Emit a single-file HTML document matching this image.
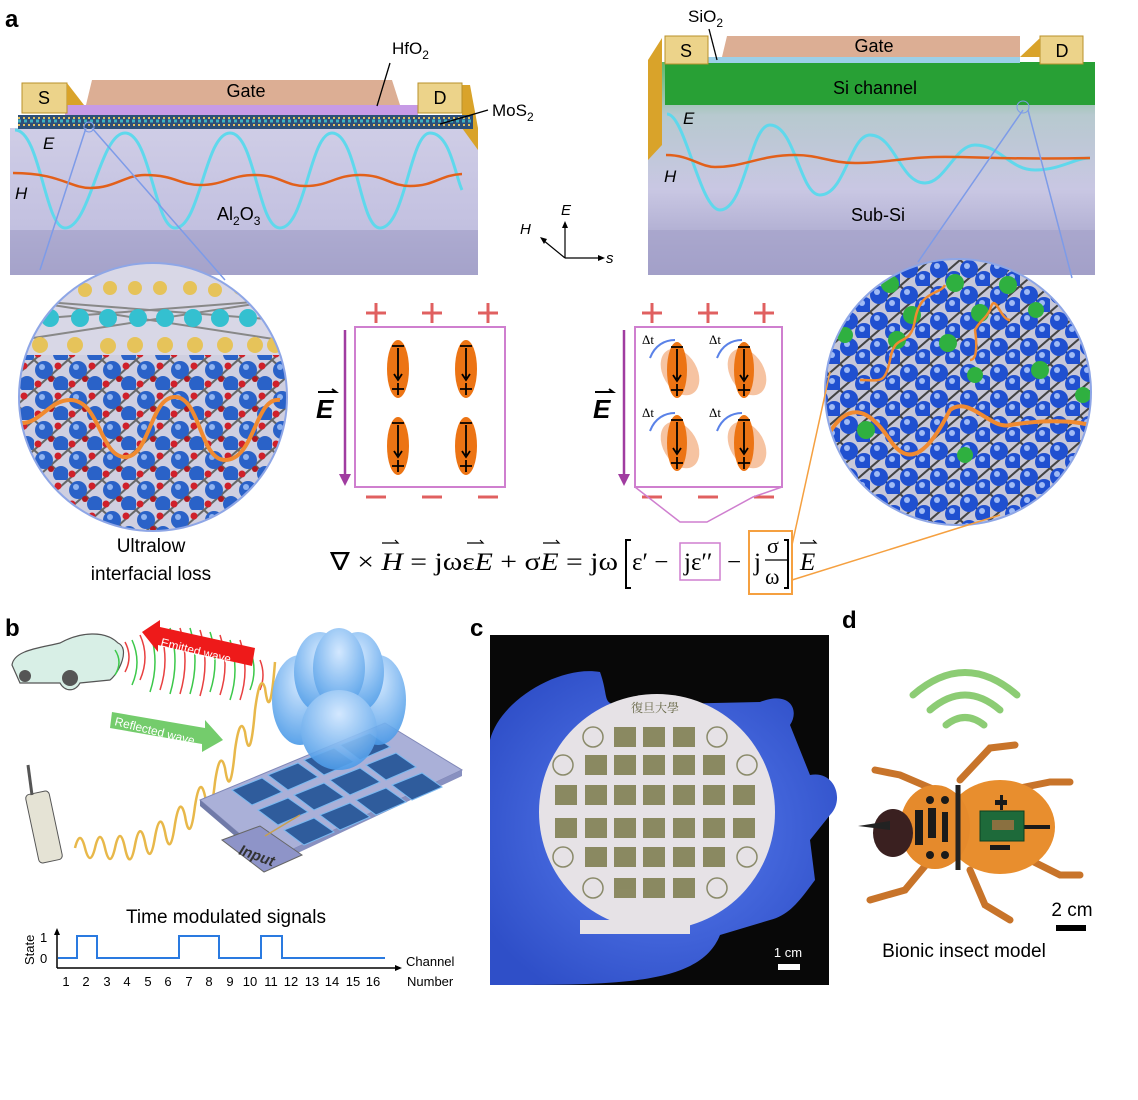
<!DOCTYPE html>
<html><head><meta charset="utf-8"><style>
html,body{margin:0;padding:0;background:#fff}
svg{display:block;font-family:"Liberation Sans",sans-serif}
</style></head><body>
<svg width="1138" height="1100" viewBox="0 0 1138 1100" xmlns="http://www.w3.org/2000/svg">
<defs>
<linearGradient id="box" x1="0" y1="0" x2="0" y2="1"><stop offset="0" stop-color="#cfcde6"/><stop offset="0.7" stop-color="#c2c0e0"/><stop offset="1" stop-color="#9a98c2"/></linearGradient>
<linearGradient id="box2" x1="0" y1="0" x2="0" y2="1"><stop offset="0" stop-color="#5fb86a"/><stop offset="0.25" stop-color="#b7c9cf"/><stop offset="0.6" stop-color="#c9c7e3"/><stop offset="1" stop-color="#9c9ac4"/></linearGradient>
<pattern id="alo" width="34" height="30" patternUnits="userSpaceOnUse">
<rect width="34" height="30" fill="#cfcfe0"/>
<path d="M0 0L34 30M34 0L0 30" stroke="#666" stroke-width="2"/>
<circle cx="10" cy="10" r="9" fill="#2a62c8"/><circle cx="8" cy="7" r="3" fill="#8fb3f0"/>
<circle cx="27" cy="24" r="8" fill="#2a62c8"/>
<circle cx="24" cy="6" r="3.5" fill="#d0202a"/><circle cx="4" cy="24" r="3.5" fill="#d0202a"/><circle cx="17" cy="19" r="3" fill="#b01820"/>
</pattern>
<pattern id="si" width="30" height="26" patternUnits="userSpaceOnUse">
<rect width="30" height="26" fill="#c8c8d8"/>
<path d="M0 0L30 26M30 0L0 26" stroke="#444" stroke-width="2"/>
<circle cx="9" cy="9" r="9" fill="#2050d0"/><circle cx="7" cy="6" r="3" fill="#9fbaf5"/>
<circle cx="24" cy="20" r="9" fill="#2050d0"/><circle cx="22" cy="17" r="3" fill="#9fbaf5"/>
</pattern>
<clipPath id="c1"><circle cx="153" cy="397" r="134"/></clipPath>
<clipPath id="c2"><circle cx="958" cy="392" r="133"/></clipPath>
<radialGradient id="glove" cx="0.5" cy="0.5" r="0.6"><stop offset="0" stop-color="#5a7ff0"/><stop offset="1" stop-color="#2f4fc8"/></radialGradient>
<radialGradient id="lobe" cx="0.5" cy="0.3" r="0.7"><stop offset="0" stop-color="#cfe6ff"/><stop offset="1" stop-color="#4a9ae8"/></radialGradient>
</defs>

<text x="5" y="27" font-size="24" font-weight="bold">a</text>
<text x="5" y="636" font-size="24" font-weight="bold">b</text>
<text x="470" y="636" font-size="24" font-weight="bold">c</text>
<text x="842" y="628" font-size="24" font-weight="bold">d</text>

<!-- LEFT DEVICE -->
<polygon points="10,128 478,128 478,275 10,275" fill="url(#box)"/>
<polygon points="10,230 478,230 478,275 10,275" fill="#a7a5cc" opacity="0.8"/>
<polygon points="462,85 470,85 478,128 478,150 462,128" fill="#d9a32a"/>
<rect x="65" y="105" width="353" height="10" fill="#c79be6"/>
<rect x="18" y="115" width="455" height="14" fill="#2d4f78"/>
<path d="M18 118 H473 M18 125 H473" stroke="#e0c060" stroke-width="2" stroke-dasharray="2 3"/>
<path d="M18 121 H473" stroke="#40b0c0" stroke-width="3" stroke-dasharray="3 3"/>
<polygon points="92,80 392,80 400,105 86,105" fill="#dcae94"/>
<text x="246" y="97" font-size="18" text-anchor="middle">Gate</text>
<rect x="22" y="83" width="45" height="30" fill="#ecd38a" stroke="#b9902a"/>
<polygon points="67,83 84,105 67,105" fill="#d9a32a"/>
<text x="44" y="104" font-size="18" text-anchor="middle">S</text>
<rect x="418" y="83" width="44" height="30" fill="#ecd38a" stroke="#b9902a"/>
<text x="440" y="104" font-size="18" text-anchor="middle">D</text>
<path d="M15 130 C40 130 45 228 65 228 C90 228 100 133 125 133 C150 133 155 228 175 228 C200 228 205 133 230 133 C255 133 258 228 280 228 C305 228 310 133 332 133 C357 133 360 228 380 228 C405 228 410 133 430 133 C450 133 455 175 462 190" fill="none" stroke="#5fd8ec" stroke-width="3"/>
<path d="M13 173 C60 173 70 188 90 188 C115 188 125 175 145 175 C175 175 180 185 200 185 C225 185 230 175 255 175 C280 175 285 186 305 186 C330 186 335 175 360 175 C385 175 390 186 410 186 C435 186 440 175 462 174" fill="none" stroke="#e2601a" stroke-width="2.5"/>
<text x="43" y="149" font-size="17" font-style="italic">E</text>
<text x="15" y="199" font-size="17" font-style="italic">H</text>
<text x="217" y="220" font-size="18">Al<tspan font-size="12" dy="5">2</tspan><tspan dy="-5">O</tspan><tspan font-size="12" dy="5">3</tspan></text>
<text x="392" y="54" font-size="17">HfO<tspan font-size="12" dy="5">2</tspan></text>
<line x1="390" y1="63" x2="377" y2="106" stroke="#000" stroke-width="1.3"/>
<text x="492" y="116" font-size="17">MoS<tspan font-size="12" dy="5">2</tspan></text>
<line x1="488" y1="110" x2="440" y2="124" stroke="#000" stroke-width="1.3"/>
<line x1="86" y1="128" x2="40" y2="270" stroke="#7d9be8" stroke-width="1.5"/>
<line x1="92" y1="128" x2="225" y2="280" stroke="#7d9be8" stroke-width="1.5"/>
<circle cx="89" cy="127" r="5" fill="none" stroke="#7d9be8"/>

<!-- LEFT CIRCLE -->
<g clip-path="url(#c1)">
<rect x="10" y="255" width="290" height="290" fill="url(#alo)"/>
<rect x="10" y="255" width="290" height="100" fill="#d8d7e6"/>
<path d="M20 300 L280 340 M20 340 L280 300 M20 320 L280 300 M20 300 L280 320" stroke="#888" stroke-width="2"/>
<g fill="#e6c35a"><circle cx="35" cy="290" r="7"/><circle cx="60" cy="288" r="7"/><circle cx="85" cy="290" r="7"/><circle cx="110" cy="288" r="7"/><circle cx="135" cy="288" r="7"/><circle cx="160" cy="288" r="7"/><circle cx="190" cy="288" r="7"/><circle cx="215" cy="290" r="7"/><circle cx="240" cy="288" r="7"/><circle cx="265" cy="290" r="7"/>
<circle cx="40" cy="345" r="8"/><circle cx="75" cy="345" r="8"/><circle cx="108" cy="346" r="8"/><circle cx="135" cy="345" r="8"/><circle cx="165" cy="345" r="8"/><circle cx="195" cy="345" r="8"/><circle cx="225" cy="345" r="8"/><circle cx="255" cy="345" r="8"/><circle cx="275" cy="345" r="8"/></g>
<g fill="#34c0d0"><circle cx="50" cy="318" r="9"/><circle cx="80" cy="318" r="9"/><circle cx="108" cy="318" r="9"/><circle cx="138" cy="318" r="9"/><circle cx="165" cy="318" r="9"/><circle cx="193" cy="318" r="9"/><circle cx="220" cy="318" r="9"/><circle cx="248" cy="318" r="9"/><circle cx="272" cy="318" r="9"/></g>
<path d="M22 423 C40 423 50 400 70 400 C100 400 100 457 125 457 C150 457 150 397 175 397 C200 397 200 460 225 460 C255 460 255 396 280 400" fill="none" stroke="#f08a30" stroke-width="4"/>
</g>
<circle cx="153" cy="397" r="134" fill="none" stroke="#8ea6e6" stroke-width="2"/>
<text x="151" y="552" font-size="19" text-anchor="middle">Ultralow</text>
<text x="151" y="580" font-size="19" text-anchor="middle">interfacial loss</text>

<!-- RIGHT DEVICE -->
<polygon points="648,62 1095,62 1095,275 648,275" fill="url(#box2)"/>
<polygon points="648,230 1095,230 1095,275 648,275" fill="#a5a3ca" opacity="0.7"/>
<polygon points="648,60 662,38 662,145 648,160" fill="#d9a32a"/>
<rect x="665" y="62" width="430" height="43" fill="#28a035"/>
<rect x="708" y="57" width="312" height="6" fill="#9cd0e8"/>
<polygon points="727,36 1020,36 1020,57 722,57" fill="#dcae94"/>
<text x="874" y="52" font-size="18" text-anchor="middle">Gate</text>
<rect x="665" y="36" width="43" height="28" fill="#ecd38a" stroke="#b9902a"/>
<text x="686" y="57" font-size="18" text-anchor="middle">S</text>
<rect x="1040" y="36" width="43" height="28" fill="#ecd38a" stroke="#b9902a"/>
<polygon points="1020,57 1040,38 1040,57" fill="#d9a32a"/>
<text x="1062" y="57" font-size="18" text-anchor="middle">D</text>
<text x="875" y="94" font-size="18" text-anchor="middle">Si channel</text>
<text x="688" y="22" font-size="17">SiO<tspan font-size="12" dy="5">2</tspan></text>
<line x1="709" y1="29" x2="717" y2="60" stroke="#000" stroke-width="1.3"/>
<path d="M667 114 C685 114 700 210 720 210 C745 210 750 125 770 125 C795 125 800 195 820 195 C845 195 850 135 870 135 C895 135 900 183 925 183 C945 183 955 145 975 145 C1000 145 1010 170 1035 170 C1060 170 1075 158 1090 158" fill="none" stroke="#5fd8ec" stroke-width="3"/>
<path d="M666 155 C690 155 700 167 715 167 C745 167 760 155 795 155 C820 155 830 163 855 163 C885 163 900 158 935 157 C970 156 1000 160 1090 158" fill="none" stroke="#e2601a" stroke-width="2.5"/>
<text x="683" y="124" font-size="17" font-style="italic">E</text>
<text x="664" y="182" font-size="17" font-style="italic">H</text>
<text x="878" y="221" font-size="18" text-anchor="middle">Sub-Si</text>
<line x1="1023" y1="110" x2="918" y2="262" stroke="#7d9be8" stroke-width="1.5"/>
<line x1="1028" y1="110" x2="1072" y2="278" stroke="#7d9be8" stroke-width="1.5"/>
<circle cx="1023" cy="107" r="6" fill="none" stroke="#7d9be8"/>

<!-- RIGHT CIRCLE -->
<g clip-path="url(#c2)">
<rect x="820" y="255" width="280" height="280" fill="url(#si)"/>
<g fill="#2fb040"><circle cx="890" cy="284" r="9"/><circle cx="955" cy="283" r="9"/><circle cx="1008" cy="285" r="9"/><circle cx="912" cy="315" r="9"/><circle cx="980" cy="313" r="9"/><circle cx="897" cy="340" r="9"/><circle cx="948" cy="343" r="9"/><circle cx="1036" cy="310" r="8"/><circle cx="1040" cy="370" r="9"/><circle cx="975" cy="375" r="8"/><circle cx="866" cy="430" r="9"/><circle cx="965" cy="455" r="8"/><circle cx="1083" cy="395" r="8"/><circle cx="845" cy="335" r="8"/></g>
<path d="M830 432 C850 400 870 410 890 440 C910 470 930 450 950 410 C970 395 990 430 1010 425 C1040 420 1070 420 1090 425" fill="none" stroke="#f08a30" stroke-width="4"/>
<path d="M860 380 C880 380 885 385 890 360 C895 330 910 350 915 320 C920 290 940 295 945 285" fill="none" stroke="#f08a30" stroke-width="2.5"/>
<path d="M970 360 C980 360 975 330 975 330 C980 320 985 320 990 310 C995 290 1000 320 1010 320" fill="none" stroke="#f08a30" stroke-width="2.5"/>
</g>
<circle cx="958" cy="392" r="133" fill="none" stroke="#8ea6e6" stroke-width="2"/>

<!-- axes -->
<g stroke="#000" stroke-width="1.2" fill="none"><path d="M565 258 V225 M565 258 H600 M565 258 L543 240"/></g>
<path d="M565 221 l-3 7 h6z M605 258 l-7 -3 v6z M540 237 l4 7 l3 -5z" fill="#000"/>
<text x="561" y="215" font-size="15" font-style="italic">E</text>
<text x="520" y="234" font-size="15" font-style="italic">H</text>
<text x="606" y="263" font-size="15" font-style="italic">s</text>

<!-- dipole boxes -->
<g stroke="#e06060" stroke-width="3">
<path d="M366 313h20M376 303v20M422 313h20M432 303v20M478 313h20M488 303v20"/>
<path d="M366 497h20M422 497h20M478 497h20"/>
<path d="M642 313h20M652 303v20M698 313h20M708 303v20M754 313h20M764 303v20"/>
<path d="M642 497h20M698 497h20M754 497h20"/>
</g>
<rect x="355" y="327" width="150" height="160" fill="none" stroke="#cf7fcf" stroke-width="2"/>
<rect x="635" y="327" width="147" height="160" fill="none" stroke="#cf7fcf" stroke-width="2"/>
<line x1="345" y1="330" x2="345" y2="478" stroke="#a03ca0" stroke-width="2.5"/><path d="M339 474 l6 12 l6 -12z" fill="#a03ca0"/>
<line x1="624" y1="330" x2="624" y2="478" stroke="#a03ca0" stroke-width="2.5"/><path d="M618 474 l6 12 l6 -12z" fill="#a03ca0"/>
<text x="316" y="418" font-size="26" font-weight="bold" font-style="italic">E</text><path d="M318 392 h18 l-4 -3" stroke="#000" stroke-width="2" fill="none"/>
<text x="593" y="418" font-size="26" font-weight="bold" font-style="italic">E</text><path d="M595 392 h18 l-4 -3" stroke="#000" stroke-width="2" fill="none"/>
<g id="dp">
<ellipse cx="398" cy="369" rx="11" ry="29" fill="#ec7414"/>
<path d="M392 346h12M398 348v30M394 374l4 6 4-6M392 389h12M398 383v12" stroke="#000" stroke-width="1.8" fill="none"/>
</g>
<use href="#dp" x="68"/><use href="#dp" y="77"/><use href="#dp" x="68" y="77"/>
<g id="dq">
<ellipse cx="680" cy="372" rx="17" ry="25" fill="#f4b48a" opacity="0.8" transform="rotate(-30 680 372)"/>
<ellipse cx="677" cy="370" rx="10" ry="28" fill="#ec7414"/>
<path d="M671 347h12M677 349v30M673 375l4 6 4-6M671 390h12M677 384v12" stroke="#000" stroke-width="1.8" fill="none"/>
<path d="M650 358 C655 345 665 340 675 340" stroke="#5a82e8" stroke-width="2" fill="none"/>
<text x="642" y="344" font-size="13" font-family="Liberation Serif">Δt</text>
</g>
<use href="#dq" x="67"/><use href="#dq" y="73"/><use href="#dq" x="67" y="73"/>
<polyline points="635,487 680,522 707,522 753,497 782,487" fill="none" stroke="#cf7fcf" stroke-width="1.5"/>
<polyline points="792,580 1000,515" fill="none" stroke="#f5a040" stroke-width="1.5"/>
<line x1="792" y1="545" x2="830" y2="372" stroke="#f5a040" stroke-width="1.5"/>

<!-- equation -->
<g font-family="Liberation Serif" font-size="25">
<text x="330" y="570" textLength="288" lengthAdjust="spacingAndGlyphs">∇ × <tspan font-style="italic">H</tspan> = jωε<tspan font-style="italic">E</tspan> + σ<tspan font-style="italic">E</tspan> = jω</text>
<text x="632" y="570">ε′ −</text>
<text x="684" y="570">jε′′</text>
<text x="727" y="570">−</text>
<text x="754" y="570">j</text>
<text x="767" y="553" font-size="22">σ</text>
<line x1="765" y1="560" x2="788" y2="560" stroke="#000" stroke-width="1.2"/>
<text x="765" y="584" font-size="22">ω</text>
<text x="800" y="570" font-style="italic">E</text>
</g>
<path d="M382 543 h16 l-3 -3 M467 543 h16 l-3 -3 M543 543 h16 l-3 -3 M800 543 h16 l-3 -3" stroke="#000" stroke-width="1.2" fill="none"/>
<path d="M631 540 h-5 v48 h5 M784 540 h4 v48 h-4" stroke="#000" stroke-width="2" fill="none"/>
<rect x="680" y="543" width="40" height="37" fill="none" stroke="#cf7fcf" stroke-width="1.5"/>
<rect x="749" y="531" width="43" height="63" fill="none" stroke="#f5a040" stroke-width="2"/>

<!-- PANEL B -->
<g stroke="#555" fill="#d8efe6" stroke-width="1.2">
<path d="M12 665 C14 650 40 648 60 643 C80 632 105 630 118 643 C130 648 120 672 110 680 L80 683 C75 692 65 692 60 683 L20 683 Z"/>
</g>
<circle cx="70" cy="678" r="8" fill="#555"/><circle cx="25" cy="676" r="6" fill="#555"/>
<g fill="none" stroke-width="1.5">
<path d="M125 642 q8 15 0 30 M140 635 q10 22 0 45 M160 630 q10 30 0 60 M180 628 q10 33 0 66 M200 630 q10 33 0 66 M220 635 q10 30 0 60 M240 640 q10 30 0 60 M260 660 q6 15 0 30" stroke="#e84040"/>
<path d="M115 650 q8 12 0 25 M132 640 q10 22 0 45 M150 632 q10 30 0 60 M170 628 q10 33 0 66 M190 628 q10 33 0 66 M210 632 q10 30 0 60 M230 640 q10 30 0 60 M250 650 q8 20 0 40" stroke="#3cc84a"/>
</g>
<polygon points="142,632 160,620 160,627 255,648 252,666 158,645 158,652" fill="#ee1a1a"/>
<text x="160" y="646" font-size="12" fill="#fff" transform="rotate(14 160 646)">Emitted wave</text>
<polygon points="112,712 205,728 205,720 223,740 202,752 202,744 110,728" fill="#74cc6c"/>
<text x="114" y="725" font-size="12" fill="#fff" transform="rotate(14 114 725)">Reflected wave</text>
<path d="M75 848 q5 -20 10 0 q5 20 10 0 q5 -22 10 0 q5 22 10 0 q5 -24 10 0 q5 24 10 -3 q5 -26 10 -3 q5 26 10 -5 q5 -28 10 -5 q5 28 10 -8 q5 -30 10 -8 q5 30 10 -10 q5 -32 10 -10 q5 32 10 -14 q5 -34 10 -14 q5 34 10 -18 q5 -36 10 -18 q5 36 10 -22 q5 -38 10 -22 q5 38 10 -26" fill="none" stroke="#e8b84a" stroke-width="2.5"/>
<rect x="32" y="792" width="24" height="70" rx="4" fill="#e5e3d5" stroke="#555" transform="rotate(-12 44 827)"/>
<line x1="32" y1="795" x2="28" y2="765" stroke="#555" stroke-width="3"/>
<polygon points="200,800 385,723 462,770 270,860" fill="#aab0d8" stroke="#8088b8"/>
<polygon points="200,800 270,860 270,866 200,806" fill="#707aa8"/>
<polygon points="270,860 462,770 462,776 270,866" fill="#8890c0"/>
<g fill="#2f5c9c" stroke="#7ab8f0" stroke-width="1">
<polygon points="232,790 262,778 282,792 252,805"/><polygon points="268,775 298,763 318,777 288,790"/><polygon points="304,760 334,748 354,762 324,775"/><polygon points="340,745 370,733 390,747 360,760"/>
<polygon points="258,810 288,798 308,812 278,825"/><polygon points="294,795 324,783 344,797 314,810"/><polygon points="330,780 360,768 380,782 350,795"/><polygon points="366,765 396,753 416,767 386,780"/>
<polygon points="284,830 314,818 334,832 304,845"/><polygon points="320,815 350,803 370,817 340,830"/><polygon points="356,800 386,788 406,802 376,815"/><polygon points="392,785 422,773 442,787 412,800"/>
</g>
<g fill="url(#lobe)" opacity="0.9">
<ellipse cx="300" cy="700" rx="28" ry="45"/><ellipse cx="378" cy="700" rx="28" ry="45"/><ellipse cx="320" cy="672" rx="26" ry="40"/><ellipse cx="358" cy="672" rx="26" ry="40"/><ellipse cx="339" cy="668" rx="26" ry="40"/><ellipse cx="339" cy="730" rx="38" ry="40"/>
</g>
<polygon points="222,840 260,826 302,855 264,872" fill="#8e94c8" stroke="#666"/>
<text x="238" y="854" font-size="15" font-weight="bold" font-style="italic" fill="#333" transform="rotate(20 238 854)">Input</text>
<line x1="265" y1="836" x2="300" y2="815" stroke="#c8a050" stroke-width="1.5"/>
<text x="226" y="923" font-size="19" text-anchor="middle">Time modulated signals</text>
<path d="M57 968 V932 M57 968 H397" stroke="#000" stroke-width="1.5" fill="none"/>
<path d="M57 928 l-3 7 h6z M402 968 l-7 -3 v6z" fill="#000"/>
<path d="M58 958 H77 V936 H97 V958 H179 V936 H219 V958 H261 V936 H282 V958 H385" stroke="#2a7ae0" stroke-width="2" fill="none"/>
<text x="40" y="942" font-size="13">1</text><text x="40" y="963" font-size="13">0</text>
<text x="34" y="965" font-size="13" transform="rotate(-90 34 965)">State</text>
<g font-size="13" text-anchor="middle"><text x="66" y="986">1</text><text x="86" y="986">2</text><text x="107" y="986">3</text><text x="127" y="986">4</text><text x="148" y="986">5</text><text x="168" y="986">6</text><text x="189" y="986">7</text><text x="209" y="986">8</text><text x="230" y="986">9</text><text x="250" y="986">10</text><text x="271" y="986">11</text><text x="291" y="986">12</text><text x="312" y="986">13</text><text x="332" y="986">14</text><text x="353" y="986">15</text><text x="373" y="986">16</text></g>
<text x="406" y="966" font-size="13">Channel</text><text x="407" y="986" font-size="13">Number</text>

<!-- PANEL C -->
<rect x="490" y="635" width="339" height="350" fill="#080808"/>
<path d="M490 740 C500 700 560 665 600 672 C610 700 600 705 625 705 L760 702 C790 690 800 710 790 725 L810 775 C835 770 845 800 830 815 L810 840 L815 880 C800 900 790 915 770 920 L720 935 C700 985 620 985 490 985 Z" fill="url(#glove)"/>
<circle cx="657" cy="812" r="118" fill="#e6e2e6"/>
<rect x="580" y="920" width="110" height="14" fill="#e6e2e6"/>
<g fill="#7b7a4a" opacity="0.85">
<rect x="614" y="727" width="22" height="20"/><rect x="643" y="727" width="22" height="20"/><rect x="673" y="727" width="22" height="20"/>
<rect x="585" y="755" width="22" height="20"/><rect x="614" y="755" width="22" height="20"/><rect x="643" y="755" width="22" height="20"/><rect x="673" y="755" width="22" height="20"/><rect x="703" y="755" width="22" height="20"/>
<rect x="555" y="785" width="22" height="20"/><rect x="585" y="785" width="22" height="20"/><rect x="614" y="785" width="22" height="20"/><rect x="643" y="785" width="22" height="20"/><rect x="673" y="785" width="22" height="20"/><rect x="703" y="785" width="22" height="20"/><rect x="733" y="785" width="22" height="20"/>
<rect x="555" y="818" width="22" height="20"/><rect x="585" y="818" width="22" height="20"/><rect x="614" y="818" width="22" height="20"/><rect x="643" y="818" width="22" height="20"/><rect x="673" y="818" width="22" height="20"/><rect x="703" y="818" width="22" height="20"/><rect x="733" y="818" width="22" height="20"/>
<rect x="585" y="847" width="22" height="20"/><rect x="614" y="847" width="22" height="20"/><rect x="643" y="847" width="22" height="20"/><rect x="673" y="847" width="22" height="20"/><rect x="703" y="847" width="22" height="20"/>
<rect x="614" y="878" width="22" height="20"/><rect x="643" y="878" width="22" height="20"/><rect x="673" y="878" width="22" height="20"/>
</g>
<g fill="none" stroke="#8a8a6a" stroke-width="1.5"><circle cx="593" cy="737" r="10"/><circle cx="717" cy="737" r="10"/><circle cx="563" cy="765" r="10"/><circle cx="747" cy="765" r="10"/><circle cx="563" cy="857" r="10"/><circle cx="747" cy="857" r="10"/><circle cx="593" cy="888" r="10"/><circle cx="717" cy="888" r="10"/></g>
<text x="655" y="712" font-size="12" text-anchor="middle" fill="#6a6a4a" font-family="Noto Serif CJK SC, serif">復旦大學</text>
<text x="788" y="957" font-size="13" fill="#fff" text-anchor="middle">1 cm</text>
<rect x="778" y="964" width="22" height="6" fill="#fff"/>

<!-- PANEL D -->
<g fill="none" stroke="#8ccc74" stroke-linecap="round">
<path d="M913 695 Q965 650 1017 695" stroke-width="7"/>
<path d="M930 710 Q965 680 1000 710" stroke-width="7"/>
<path d="M946 725 Q965 710 984 725" stroke-width="7"/>
</g>
<g stroke="#c8742a" stroke-width="7" stroke-linecap="round" fill="none">
<path d="M935 790 L900 775 L875 770"/><path d="M960 780 L990 748 L1015 745"/><path d="M1010 790 L1050 782 L1070 782"/>
<path d="M930 860 L905 890 L870 900"/><path d="M970 870 L985 905 L1010 920"/><path d="M1030 860 L1060 875 L1080 875"/>
</g>
<ellipse cx="1000" cy="827" rx="55" ry="47" fill="#e88e2e"/>
<ellipse cx="935" cy="827" rx="35" ry="42" fill="#e58a2c"/>
<ellipse cx="893" cy="833" rx="20" ry="24" fill="#3a2020"/>
<polygon points="858,826 890,821 890,830" fill="#222"/>
<line x1="958" y1="785" x2="958" y2="870" stroke="#222" stroke-width="5"/>
<g fill="#1a1a1a"><rect x="915" y="810" width="8" height="35"/><rect x="928" y="808" width="8" height="30"/><rect x="942" y="812" width="6" height="30"/><circle cx="930" cy="800" r="4"/><circle cx="945" cy="800" r="4"/><circle cx="930" cy="855" r="4"/><circle cx="945" cy="855" r="4"/><rect x="995" y="800" width="12" height="5"/><rect x="1000" y="795" width="3" height="15"/><rect x="990" y="845" width="20" height="5"/><rect x="1020" y="825" width="30" height="4"/></g>
<rect x="980" y="811" width="44" height="30" fill="#1e6a3a" stroke="#0e4020"/>
<rect x="992" y="820" width="22" height="10" fill="#8a7040"/>
<text x="1072" y="916" font-size="19" text-anchor="middle">2 cm</text>
<rect x="1056" y="925" width="30" height="6" fill="#000"/>
<text x="964" y="957" font-size="19" text-anchor="middle">Bionic insect model</text>
</svg>
</body></html>
